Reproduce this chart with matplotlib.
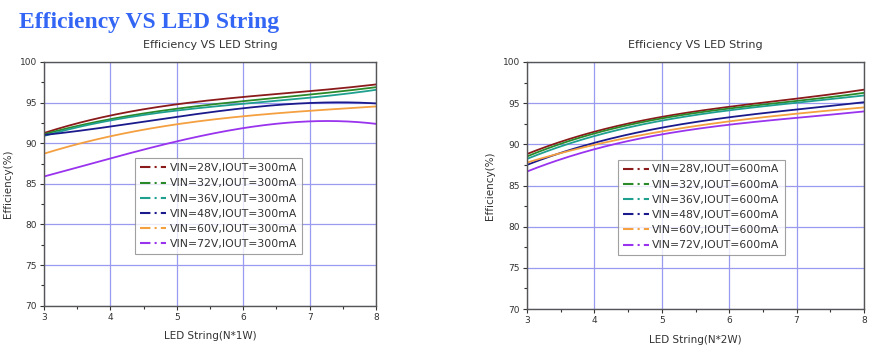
import numpy as np
import matplotlib
matplotlib.use("Agg")
import matplotlib.pyplot as plt
from matplotlib.lines import Line2D
from matplotlib.ticker import MultipleLocator

# LED string length (N)
led_n = [3, 4, 5, 6, 7, 7.5, 8]

vin_labels = ["28V", "32V", "36V", "48V", "60V", "72V"]
colors = ["#8b1a1a", "#2a8a2a", "#1fa08f", "#1a1a8c", "#f4a040", "#9933ee"]

# efficiency (%) at IOUT=300mA, N*1W
eff_300 = {
    "28V": [91.2, 93.6, 94.6, 95.7, 96.5, 96.8, 97.2],
    "32V": [91.1, 93.0, 94.2, 95.2, 96.0, 96.4, 96.9],
    "36V": [90.9, 92.8, 94.0, 94.9, 95.6, 96.0, 96.6],
    "48V": [91.0, 92.1, 93.2, 94.3, 95.0, 95.0, 94.9],
    "60V": [88.7, 90.9, 92.3, 93.3, 94.0, 94.3, 94.5],
    "72V": [85.9, 88.1, 90.4, 91.6, 92.8, 92.8, 92.3],
}

# efficiency (%) at IOUT=600mA, N*2W
eff_600 = {
    "28V": [88.8, 91.6, 93.3, 94.5, 95.6, 96.1, 96.6],
    "32V": [88.5, 91.4, 93.1, 94.3, 95.3, 95.8, 96.2],
    "36V": [88.2, 91.1, 92.8, 94.1, 95.1, 95.5, 95.9],
    "48V": [87.5, 90.2, 92.0, 93.3, 94.2, 94.7, 95.1],
    "60V": [87.8, 89.9, 91.6, 92.8, 93.7, 94.1, 94.5],
    "72V": [86.7, 89.4, 91.2, 92.4, 93.2, 93.6, 94.0],
}


def smooth(x, y):
    # cubic fit through the read points so the curves look smooth
    xs = np.linspace(x[0], x[-1], 200)
    p = np.polyfit(x, y, 3)
    return xs, np.polyval(p, xs)


def draw(ax, data, iout, xlabel, legend_box, ylab_x):
    for v, c in zip(vin_labels, colors):
        xs, ys = smooth(led_n, data[v])
        ax.plot(xs, ys, color=c, lw=1.3)
    ax.set_xlim(3, 8)
    ax.set_ylim(70, 100)
    ax.xaxis.set_major_locator(MultipleLocator(1))
    ax.xaxis.set_minor_locator(MultipleLocator(0.5))
    ax.yaxis.set_major_locator(MultipleLocator(5))
    ax.yaxis.set_minor_locator(MultipleLocator(2.5))
    ax.grid(True, which="major", color="#9a9af0", lw=0.9)
    ax.tick_params(labelsize=6.5, length=3, width=0.8, colors="#333333", pad=2)
    ax.tick_params(which="minor", length=2, width=0.8, colors="#333333")
    for s in ax.spines.values():
        s.set_color("#555555")
        s.set_linewidth(1.0)
    ax.set_title("Efficiency VS LED String", fontsize=8, color="#333333", pad=10)
    ax.set_xlabel(xlabel, fontsize=7.5, color="#333333", labelpad=7)
    ax.set_ylabel("Efficiency(%)", fontsize=7.5, color="#333333")
    ax.yaxis.set_label_coords(ylab_x, 0.5)
    handles = [Line2D([], [], color=c, lw=1.5, ls=(0, (5, 2, 1, 2)))
               for c in colors]
    names = ["VIN=%s,IOUT=%s" % (v, iout) for v in vin_labels]
    leg = ax.legend(handles, names, loc="upper left", bbox_to_anchor=legend_box,
                    fontsize=7.8, frameon=True, fancybox=False, handlelength=2.4,
                    handletextpad=0.3, labelspacing=0.48, borderpad=0.45,
                    borderaxespad=0)
    leg.get_frame().set_edgecolor("#888888")
    leg.get_frame().set_linewidth(0.8)
    for t in leg.get_texts():
        t.set_color("#333333")


fig = plt.figure(figsize=(8.72, 3.5), dpi=100)
ax1 = fig.add_axes([0.0505, 0.1266, 0.3808, 0.6963])
ax2 = fig.add_axes([0.6044, 0.1171, 0.3864, 0.7058])

draw(ax1, eff_300, "300mA", "LED String(N*1W)", (0.275, 0.605), -0.093)
draw(ax2, eff_600, "600mA", "LED String(N*2W)", (0.27, 0.605), -0.095)

fig.text(0.022, 0.937, "Efficiency VS LED String", fontsize=17,
         fontweight="bold", family="Liberation Serif", color="#3366f5",
         va="center")

fig.savefig("out.png", dpi=100)
